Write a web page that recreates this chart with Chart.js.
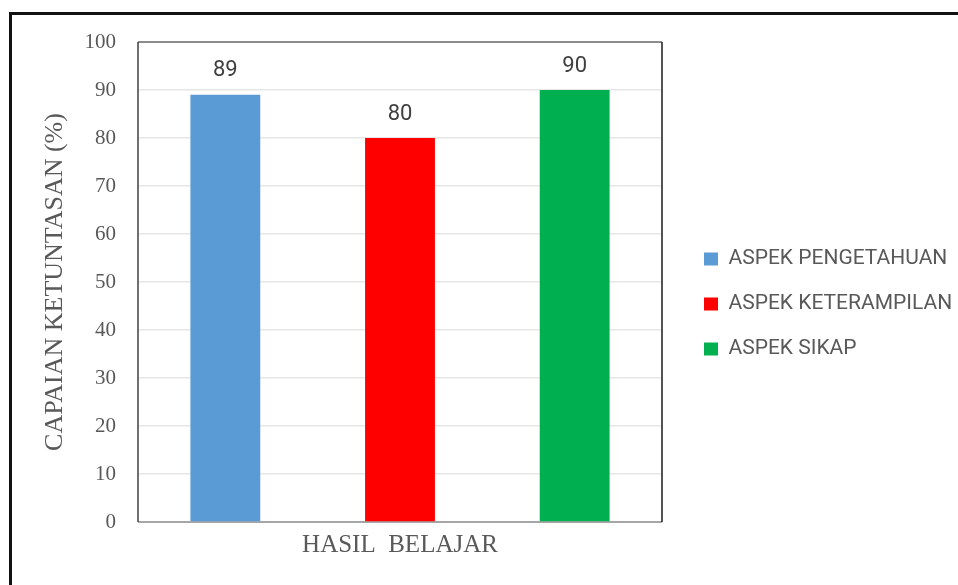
<!DOCTYPE html>
<html>
<head>
<meta charset="utf-8">
<script src="https://cdn.jsdelivr.net/npm/chart.js@4.4.1/dist/chart.umd.min.js"></script>
<style>
  html, body { margin: 0; padding: 0; background: #fff; }
  #frame { position: absolute; left: 9px; top: 12px; width: 1200px; height: 800px;
           border-top: 3px solid #111; border-left: 3px solid #111; }
  #wrap { position: absolute; left: 0; top: 0; width: 958px; height: 585px; }
</style>
</head>
<body>
<div id="frame"></div>
<div id="wrap"><canvas id="barChart"></canvas></div>
<script>
const categories = ["HASIL  BELAJAR"];
const seriesNames = ["ASPEK PENGETAHUAN", "ASPEK KETERAMPILAN", "ASPEK SIKAP"];
const seriesValues = [[89], [80], [90]];
const seriesColors = ["#5B9BD5", "#FF0000", "#00B050"];
const yTicks = [0, 10, 20, 30, 40, 50, 60, 70, 80, 90, 100];

const serif = "'Liberation Serif', 'Times New Roman', serif";
const sans = "Roboto, 'Liberation Sans', sans-serif";

// frame around plot area + value labels
const plotFrame = {
  id: "plotFrame",
  beforeDatasetsDraw(chart) {
    const { ctx, chartArea: a } = chart;
    ctx.save();
    ctx.lineWidth = 2;
    ctx.strokeStyle = "#8c8c8c";
    ctx.beginPath(); ctx.moveTo(a.left, a.top); ctx.lineTo(a.right, a.top); ctx.stroke();
    ctx.strokeStyle = "#a6a6a6";
    ctx.beginPath(); ctx.moveTo(a.left, a.bottom); ctx.lineTo(a.right, a.bottom); ctx.stroke();
    ctx.lineWidth = 1.5;
    ctx.strokeStyle = "#404040";
    ctx.beginPath(); ctx.moveTo(a.left, a.top); ctx.lineTo(a.left, a.bottom); ctx.stroke();
    ctx.strokeStyle = "#1a1a1a";
    ctx.beginPath(); ctx.moveTo(a.right, a.top); ctx.lineTo(a.right, a.bottom); ctx.stroke();
    ctx.restore();
  },
  afterDatasetsDraw(chart) {
    const { ctx } = chart;
    ctx.save();
    ctx.font = "22px " + sans;
    ctx.fillStyle = "#404040";
    ctx.textAlign = "center";
    ctx.textBaseline = "middle";
    chart.data.datasets.forEach((ds, i) => {
      chart.getDatasetMeta(i).data.forEach((bar, j) => {
        ctx.fillText(ds.data[j], bar.x, bar.y - 24);
      });
    });
    ctx.restore();
  }
};

// fix legend width and nudge it into place
const legendPlace = {
  id: "legendPlace",
  beforeLayout(chart) {
    const lg = chart.legend;
    if (lg && !lg._fixed) {
      const fit = lg.fit;
      lg.fit = function () { fit.call(this); this.width = 296; };
      lg._fixed = true;
    }
  },
  afterLayout(chart) {
    const lg = chart.legend;
    lg.left += 18; lg.right += 18;
  }
};

new Chart(document.getElementById("barChart"), {
  type: "bar",
  data: {
    labels: categories,
    datasets: seriesNames.map((name, i) => ({
      label: name,
      data: seriesValues[i],
      backgroundColor: seriesColors[i],
      borderWidth: 0
    }))
  },
  options: {
    responsive: true,
    maintainAspectRatio: false,
    animation: false,
    layout: { padding: { left: 36, top: 42, right: 0, bottom: 19 } },
    datasets: { bar: { categoryPercentage: 1.0, barPercentage: 0.4 } },
    plugins: {
      legend: {
        position: "right",
        labels: {
          boxWidth: 14, boxHeight: 13, padding: 24,
          color: "#595959", font: { family: sans, size: 21 }
        }
      },
      tooltip: { enabled: false }
    },
    scales: {
      x: {
        grid: { display: false },
        border: { display: false },
        ticks: { color: "#595959", padding: 0, font: { family: serif, size: 25 } },
        afterFit(scale) { scale.height = 44; }
      },
      y: {
        min: 0, max: 100,
        afterBuildTicks(scale) { scale.ticks = yTicks.map(v => ({ value: v })); },
        grid: { color: "#e6e6e6", lineWidth: 1.5, drawTicks: false },
        border: { display: false },
        ticks: { color: "#595959", padding: 22, font: { family: serif, size: 21 } },
        title: {
          display: true, text: "CAPAIAN KETUNTASAN (%)",
          color: "#595959", padding: { top: 4, bottom: 0 },
          font: { family: serif, size: 26 }
        },
        afterFit(scale) { scale.width = 102; }
      }
    }
  },
  plugins: [plotFrame, legendPlace]
});
</script>
</body>
</html>
